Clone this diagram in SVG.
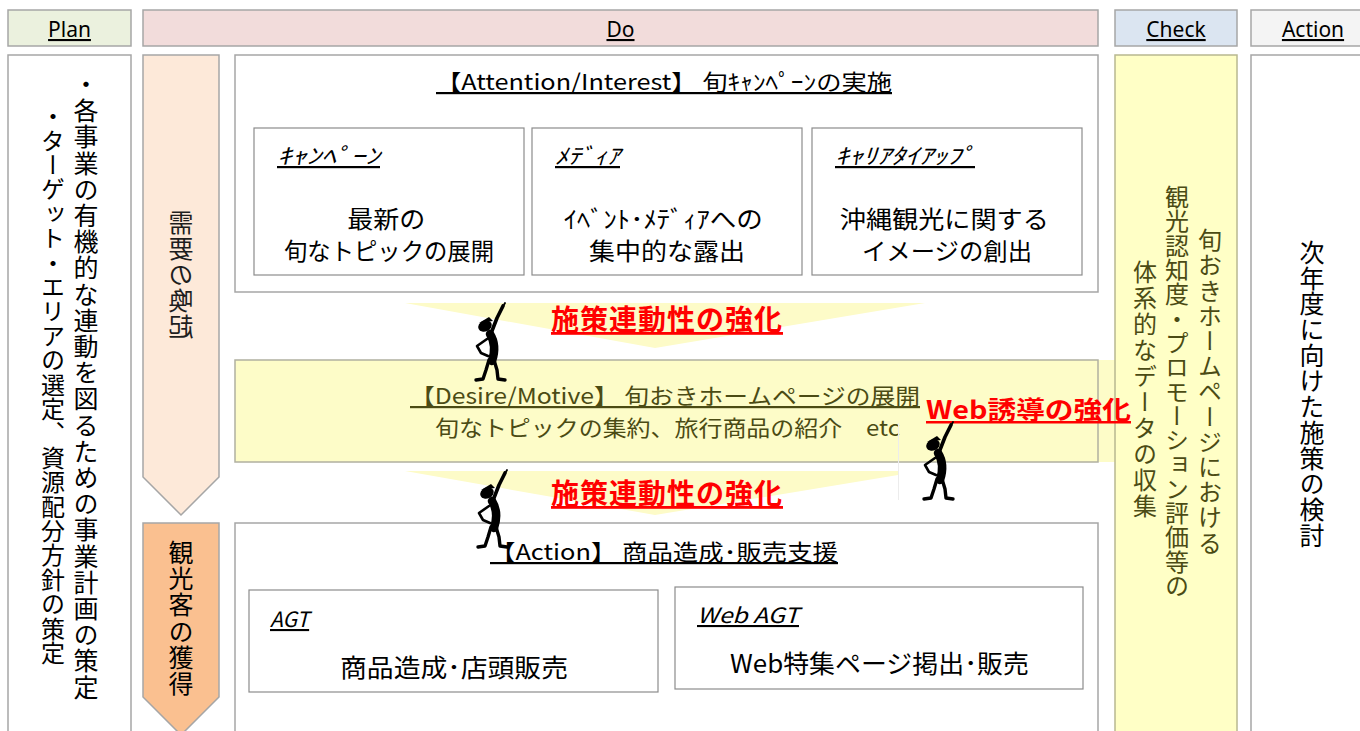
<svg xmlns="http://www.w3.org/2000/svg" width="1360" height="731" viewBox="0 0 1360 731">
  <defs>
    <style>
      .jp { font-family: "Noto Sans CJK JP", "Noto Sans", sans-serif; }
      .lat { font-family: "Noto Sans", "Liberation Sans", sans-serif; }
      .hdr { stroke: #a6a6a6; stroke-width: 1.5; }
      .col { fill: #ffffff; stroke: #a6a6a6; stroke-width: 1.5; }
      .sub { fill: #ffffff; stroke: #8c8c8c; stroke-width: 1.2; }
      .v { writing-mode: vertical-rl; }
      .ul { text-decoration: underline; }
      .red { fill: #ff0000; font-weight: 700; text-decoration: underline; }
      .olive { fill: #4b4b14; }
      .tri { fill: #fdfbc8; }
      .fig { fill: none; stroke: #000; stroke-linecap: round; stroke-linejoin: round; }
    </style>
    <!-- pointing stick figure -->
    <g id="stickman">
      <path class="fig" d="M490,336 L497,318 L503,306" stroke-width="3.6"/>
      <path class="fig" d="M501,310 L505,303" stroke-width="1.8"/>
      <ellipse cx="485" cy="326" rx="7" ry="5.5" transform="rotate(-25 485 326)" fill="#000"/>
      <path d="M479,323 L489,317 L493,321 Z" fill="#000"/>
      <path class="fig" d="M490,334 C495,342 495,352 492,361" stroke-width="8.5"/>
      <path class="fig" d="M487,339 L477,346 L481,353 L488,356" stroke-width="2.6"/>
      <path class="fig" d="M489,360 L486,370 L483,379 L476,380" stroke-width="3.4"/>
      <path class="fig" d="M494,360 L497,370 L498,379 L505,380" stroke-width="3.4"/>
    </g>
  </defs>

  <rect width="1360" height="731" fill="#ffffff"/>

  <!-- header row -->
  <g id="hdr-plan">
    <rect class="hdr" x="8" y="10" width="123" height="36" fill="#ebf1de"/>
    <text class="lat ul" x="69.5" y="37" font-size="21" text-anchor="middle" fill="#000">Plan</text>
  </g>
  <g id="hdr-do">
    <rect class="hdr" x="143" y="10" width="955" height="36" fill="#f2dcdb"/>
    <text class="lat ul" x="620.5" y="37" font-size="21" text-anchor="middle" fill="#000">Do</text>
  </g>
  <g id="hdr-check">
    <rect class="hdr" x="1115" y="10" width="122" height="36" fill="#dbe5f1"/>
    <text class="lat ul" x="1176" y="37" font-size="21" text-anchor="middle" fill="#000">Check</text>
  </g>
  <g id="hdr-action">
    <rect class="hdr" x="1251" y="10" width="115" height="36" fill="#f4f4f4"/>
    <text class="lat ul" x="1313" y="37" font-size="21" text-anchor="middle" fill="#000">Action</text>
  </g>

  <!-- Plan column -->
  <g id="plan">
    <rect class="col" x="8" y="55" width="123" height="690"/>
    <text class="jp v" x="86" y="72" font-size="25" letter-spacing="1.2" fill="#000">・各事業の有機的な連動を図るための事業計画の策定</text>
    <text class="jp v" x="53" y="104" font-size="24" letter-spacing="0.4" fill="#000">・ターゲット・エリアの選定、資源配分方針の策定</text>
  </g>

  <!-- stage arrows -->
  <g id="arrow-demand">
    <polygon points="143,55 219,55 219,477 181,515 143,477" fill="#fde9d9" stroke="#a6a6a6" stroke-width="1.5"/>
    <text class="jp v" x="181" y="210" font-size="25" letter-spacing="1" fill="#1e1e1e" transform="matrix(-1 0 0 1 362 0)">需要の喚起</text>
  </g>
  <g id="arrow-acquire">
    <polygon points="143,523 219,523 219,697 181,735 143,697" fill="#fac090" stroke="#a6a6a6" stroke-width="1.5"/>
    <text class="jp v" x="181" y="540" font-size="25" letter-spacing="1.2" fill="#000">観光客の獲得</text>
  </g>

  <!-- Attention / Interest -->
  <g id="attention">
    <rect class="col" x="235" y="55" width="863" height="237"/>
    <text class="jp ul" x="436" y="90" font-size="22" textLength="456" lengthAdjust="spacingAndGlyphs" fill="#000">【Attention/Interest】 旬ｷｬﾝﾍﾟｰﾝの実施</text>
  </g>
  <g id="campaign">
    <rect class="sub" x="254" y="128" width="270" height="147"/>
    <text class="jp ul" x="277" y="164" font-size="22" font-style="italic" textLength="103" lengthAdjust="spacingAndGlyphs" fill="#000">ｷｬﾝﾍﾟｰﾝ</text>
    <text class="jp" font-size="24" text-anchor="middle" fill="#000">
      <tspan x="389" y="228" textLength="78" lengthAdjust="spacingAndGlyphs">最新の</tspan>
      <tspan x="389" y="260" textLength="210" lengthAdjust="spacingAndGlyphs">旬なトピックの展開</tspan>
    </text>
  </g>
  <g id="media">
    <rect class="sub" x="532" y="128" width="270" height="147"/>
    <text class="jp ul" x="555" y="164" font-size="22" font-style="italic" textLength="65" lengthAdjust="spacingAndGlyphs" fill="#000">ﾒﾃﾞｨｱ</text>
    <text class="jp" font-size="24" text-anchor="middle" fill="#000">
      <tspan x="666" y="228" textLength="199" lengthAdjust="spacingAndGlyphs">ｲﾍﾞﾝﾄ･ﾒﾃﾞｨｱへの</tspan>
      <tspan x="667" y="260" textLength="156" lengthAdjust="spacingAndGlyphs">集中的な露出</tspan>
    </text>
  </g>
  <g id="carrier">
    <rect class="sub" x="812" y="128" width="270" height="147"/>
    <text class="jp ul" x="835" y="164" font-size="22" font-style="italic" textLength="140" lengthAdjust="spacingAndGlyphs" fill="#000">ｷｬﾘｱﾀｲｱｯﾌﾟ</text>
    <text class="jp" font-size="24" text-anchor="middle" fill="#000">
      <tspan x="947" y="228" textLength="209" lengthAdjust="spacingAndGlyphs">沖縄観光に関する</tspan>
      <tspan x="947" y="260" textLength="170" lengthAdjust="spacingAndGlyphs">イメージの創出</tspan>
    </text>
  </g>

  <!-- Desire / Motive -->
  <g id="desire">
    <rect x="1098" y="360" width="17" height="102" fill="#fdfcc8"/>
    <rect x="235" y="360" width="863" height="102" fill="#fdfcc8" stroke="#b0b0a0" stroke-width="1.5"/>
    <text class="jp olive" font-size="22">
      <tspan class="ul" x="410" y="404" textLength="510" lengthAdjust="spacingAndGlyphs">【Desire/Motive】 旬おきホームページの展開</tspan>
      <tspan x="435" y="436" textLength="465" lengthAdjust="spacingAndGlyphs">旬なトピックの集約、旅行商品の紹介　etc</tspan>
    </text>
  </g>

  <!-- Action -->
  <g id="action">
    <rect class="col" x="235" y="523" width="863" height="222"/>
    <text class="jp ul" x="490" y="560" font-size="22" textLength="348" lengthAdjust="spacingAndGlyphs" fill="#000">【Action】 商品造成･販売支援</text>
  </g>
  <g id="agt">
    <rect class="sub" x="249" y="590" width="409" height="102"/>
    <text class="jp ul" x="270" y="627" font-size="21" font-style="italic" fill="#000">AGT</text>
    <text class="jp" x="454" y="677" font-size="25" text-anchor="middle" textLength="228" lengthAdjust="spacingAndGlyphs" fill="#000">商品造成･店頭販売</text>
  </g>
  <g id="web-agt">
    <rect class="sub" x="675" y="587" width="408" height="102"/>
    <text class="jp ul" x="697" y="623" font-size="21" font-style="italic" textLength="102" lengthAdjust="spacingAndGlyphs" fill="#000">Web AGT</text>
    <text class="jp" x="879.5" y="673" font-size="25" text-anchor="middle" textLength="299" lengthAdjust="spacingAndGlyphs" fill="#000">Web特集ページ掲出･販売</text>
  </g>

  <!-- Check column -->
  <g id="check">
    <rect x="1115" y="55" width="122" height="690" fill="#ffffc6" stroke="#b8b890" stroke-width="1.5"/>
    <text class="jp v olive" x="1210" y="228" font-size="24" letter-spacing="1.2">旬おきホームページにおける</text>
    <text class="jp v olive" x="1177" y="185" font-size="24" letter-spacing="0.3">観光認知度・プロモーション評価等の</text>
    <text class="jp v olive" x="1145" y="260" font-size="24" letter-spacing="2">体系的なデータの収集</text>
  </g>

  <!-- Action column -->
  <g id="next-year">
    <rect class="col" x="1251" y="55" width="115" height="690"/>
    <text class="jp v" x="1312" y="240" font-size="25" letter-spacing="0.7" fill="#000">次年度に向けた施策の検討</text>
  </g>

  <!-- linkage connectors -->
  <g id="connectors">
    <polygon class="tri" points="405,303 925,303 655,348"/>
    <polygon class="tri" points="405,471 898,471 898,475 655,515"/>
    <line x1="898.5" y1="423" x2="898.5" y2="500" stroke="#ececec" stroke-width="1"/>
    <text class="jp red" x="667" y="330" font-size="28" letter-spacing="1" text-anchor="middle">施策連動性の強化</text>
    <text class="jp red" x="667" y="504" font-size="28" letter-spacing="1" text-anchor="middle">施策連動性の強化</text>
    <text class="jp red" x="926" y="419" font-size="25" textLength="205" lengthAdjust="spacingAndGlyphs">Web誘導の強化</text>
    <use href="#stickman"/>
    <use href="#stickman" transform="translate(2,167)"/>
    <use href="#stickman" transform="translate(448,119)"/>
  </g>
</svg>
